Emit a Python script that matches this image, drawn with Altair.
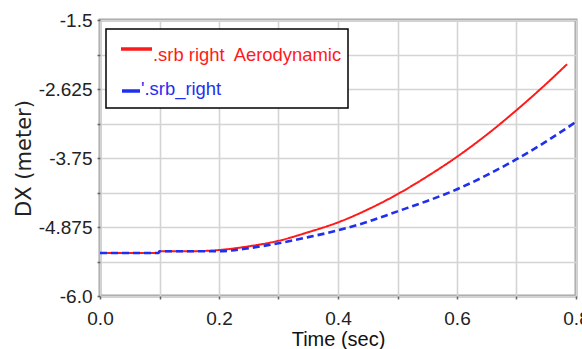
import altair as alt
import pandas as pd

# ---- data ----
t_red = [0.0, 0.098, 0.1, 0.15, 0.2, 0.25, 0.3, 0.35, 0.4, 0.45, 0.5, 0.55, 0.6, 0.65, 0.7, 0.75, 0.785]
dx_red = [-5.30, -5.30, -5.27, -5.27, -5.25, -5.19, -5.10, -4.96, -4.80, -4.59, -4.34, -4.05, -3.73, -3.37, -2.97, -2.54, -2.22]

t_blue = [0.0, 0.098, 0.1, 0.15, 0.2, 0.25, 0.3, 0.35, 0.4, 0.45, 0.5, 0.55, 0.6, 0.65, 0.7, 0.75, 0.8]
dx_blue = [-5.30, -5.30, -5.27, -5.27, -5.27, -5.22, -5.14, -5.04, -4.93, -4.79, -4.62, -4.45, -4.26, -4.03, -3.77, -3.48, -3.16]

series_names = [".srb right\u00a0 Aerodynamic", "'.srb_right"]
series_colors = ["#ff1a1a", "#1f2ff0"]

y_ticks = [-1.5, -2.0625, -2.625, -3.1875, -3.75, -4.3125, -4.875, -5.4375, -6.0]
y_labels = {-1.5: "-1.5", -2.625: "-2.625", -3.75: "-3.75", -4.875: "-4.875", -6.0: "-6.0"}
x_ticks = [0.0, 0.1, 0.2, 0.3, 0.4, 0.5, 0.6, 0.7, 0.8]

df = pd.concat([
    pd.DataFrame({"t": t_red, "dx": dx_red, "s": series_names[0]}),
    pd.DataFrame({"t": t_blue, "dx": dx_blue, "s": series_names[1]}),
])

FONT = "Liberation Sans, Arial, sans-serif"

y_expr = " : ".join(f"datum.value == {v} ? '{l}'" for v, l in y_labels.items()) + " : ''"

xscale = alt.Scale(domain=[0, 0.8], nice=False, zero=False)
yscale = alt.Scale(domain=[-6.0, -1.5], nice=False, zero=False)

xaxis = alt.Axis(values=x_ticks, format=".1f",
                 labelExpr="round(datum.value*10) % 2 == 0 ? datum.label : ''",
                 title="Time (sec)", titleFont=FONT, titleFontSize=20, titleFontWeight="normal",
                 titleY=49, titleBaseline="alphabetic", titleColor="#111",
                 labelFont=FONT, labelFontSize=19, labelColor="#222", labelPadding=10,
                 labelOverlap=False, labelFlush=False,
                 grid=True, gridColor="#d4d4d4", gridWidth=1.6,
                 domain=False, tickSize=3, tickColor="#666", tickWidth=1.5)
yaxis = alt.Axis(values=y_ticks, labelExpr=y_expr,
                 title="DX (meter)", titleFont="DejaVu Sans", titleFontSize=21, titleFontWeight="normal",
                 titleColor="#222", titleX=-76, titleY=138, titleAlign="center", titleBaseline="middle",
                 titleAngle=270,
                 labelFont=FONT, labelFontSize=19, labelColor="#222", labelPadding=5,
                 labelOverlap=False, labelFlush=False,
                 grid=True, gridColor="#d4d4d4", gridWidth=1.6,
                 domain=False, tickSize=3, tickColor="#666", tickWidth=1.5)

lines = alt.Chart(df).mark_line(interpolate="monotone", clip=True).encode(
    x=alt.X("t:Q", scale=xscale, axis=xaxis),
    y=alt.Y("dx:Q", scale=yscale, axis=yaxis),
    color=alt.Color("s:N", scale=alt.Scale(domain=series_names, range=series_colors), legend=None),
    strokeDash=alt.StrokeDash("s:N", scale=alt.Scale(domain=series_names, range=[[1, 0], [7, 4]]), legend=None),
    strokeWidth=alt.StrokeWidth("s:N", scale=alt.Scale(domain=series_names, range=[2.0, 2.6]), legend=None),
)

one = alt.Data(values=[{}])
legend_box = alt.Chart(one).mark_rect(fill="white", stroke="black", strokeWidth=1.5).encode(
    x=alt.value(6), x2=alt.value(248), y=alt.value(9), y2=alt.value(88))
sample_red = alt.Chart(one).mark_rule(color=series_colors[0], strokeWidth=3.5).encode(
    x=alt.value(21), x2=alt.value(52), y=alt.value(29))
sample_blue = alt.Chart(one).mark_rule(color=series_colors[1], strokeWidth=3.5).encode(
    x=alt.value(22), x2=alt.value(40), y=alt.value(71))
text_red = alt.Chart(one).mark_text(align="left", baseline="middle", font=FONT, fontSize=18.4,
                                    color=series_colors[0]).encode(
    x=alt.value(53), y=alt.value(35), text=alt.value(series_names[0]))
text_blue = alt.Chart(one).mark_text(align="left", baseline="middle", font=FONT, fontSize=18.4,
                                     color=series_colors[1]).encode(
    x=alt.value(41), y=alt.value(69), text=alt.value(series_names[1]))

chart = alt.layer(lines, legend_box, sample_red, sample_blue, text_red, text_blue).properties(
    width=476, height=276,
    autosize=alt.AutoSizeParams(type="none"),
    padding={"left": 100, "top": 20, "right": 6, "bottom": 53},
    background="white",
).configure_view(stroke="#a3a3a3", strokeWidth=3)

chart.save("out.html", embed_options={"renderer": "svg", "actions": False})
